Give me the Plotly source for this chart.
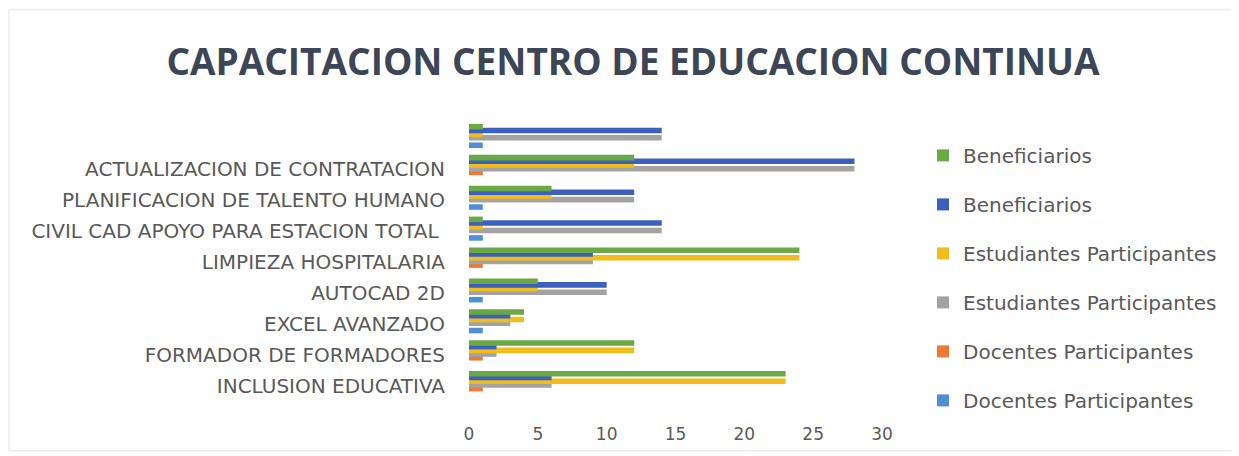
import plotly.graph_objects as go

categories = ["INCLUSION EDUCATIVA", "FORMADOR DE FORMADORES", "EXCEL AVANZADO",
              "AUTOCAD 2D", "LIMPIEZA HOSPITALARIA", "CIVIL CAD APOYO PARA ESTACION TOTAL ",
              "PLANIFICACION DE TALENTO HUMANO", "ACTUALIZACION DE CONTRATACION", " "]

docentes_a = [0, 0, 1, 1, 0, 1, 1, 0, 1]        # light blue
docentes_b = [1, 1, 0, 0, 1, 0, 0, 1, 0]        # orange
estudiantes_a = [6, 2, 3, 10, 9, 14, 12, 28, 14]  # gray
estudiantes_b = [23, 12, 4, 5, 24, 1, 6, 12, 1]   # yellow
beneficiarios_a = [6, 2, 3, 10, 9, 14, 12, 28, 14]  # dark blue
beneficiarios_b = [23, 12, 4, 5, 24, 1, 6, 12, 1]   # green

series = [
    ("Docentes Participantes", docentes_a, "#4f8fd8"),
    ("Docentes Participantes", docentes_b, "#ec7a35"),
    ("Estudiantes Participantes", estudiantes_a, "#a3a3a3"),
    ("Estudiantes Participantes", estudiantes_b, "#f2bd1a"),
    ("Beneficiarios", beneficiarios_a, "#3b60c0"),
    ("Beneficiarios", beneficiarios_b, "#6aaa45"),
]

# page has an 8px body margin; all figure pixel coordinates = page - 8
OFF = 8
W = 1239 - OFF
H = 456 - OFF
ML = 469 - OFF
PR = 882 - OFF
MT = 123 - OFF
PB = 420 - OFF
MR = W - PR
MB = H - PB

bar_w = 0.18
step = 0.12
start = -0.5 * (5 * step + bar_w) + 0.08

fig = go.Figure()
for i, (name, vals, col) in enumerate(series):
    fig.add_trace(go.Bar(
        y=categories, x=vals, orientation="h", name=name,
        marker=dict(color=col, line=dict(width=0)),
        width=bar_w, offset=start + i * step,
        legendgroup=f"g{i}", legendrank=100 - i,
    ))

pw = W - ML - MR
ph = H - MT - MB

def px_x(p):
    return (p - OFF - ML) / pw

def px_y(p):
    return 1 - (p - OFF - MT) / ph

fig.update_layout(
    width=W, height=H,
    margin=dict(l=ML, r=MR, t=MT, b=MB),
    paper_bgcolor="white", plot_bgcolor="white",
    barmode="overlay",
    title=dict(text="<b>CAPACITACION CENTRO DE EDUCACION CONTINUA</b>",
               x=(633 - OFF) / W, xref="container", xanchor="center",
               y=1 - (62 - OFF) / H, yanchor="middle",
               font=dict(family="Open Sans", size=37, color="#3d4656")),
    font=dict(family="DejaVu Sans", size=18, color="#595959"),
    xaxis=dict(range=[0, 30], dtick=5, showgrid=False, zeroline=False,
               showline=False, ticklabelstandoff=4,
               tickfont=dict(family="DejaVu Sans", size=17, color="#595959")),
    yaxis=dict(range=[-1.05, 8.5], showgrid=False, zeroline=False, showline=False,
               ticks="outside", ticklen=19, tickcolor="rgba(0,0,0,0)",
               tickfont=dict(family="DejaVu Sans", size=20, color="#595959")),
    legend=dict(x=px_x(923), xanchor="left", y=px_y(136), yanchor="top",
                traceorder="grouped", tracegroupgap=20,
                font=dict(family="DejaVu Sans", size=20, color="#595959"),
                bgcolor="rgba(0,0,0,0)"),
    shapes=[dict(type="rect", xref="paper", yref="paper",
                 x0=px_x(9), x1=px_x(1236), y0=px_y(453), y1=px_y(9),
                 line=dict(color="#e6e6e6", width=1), fillcolor="rgba(0,0,0,0)", layer="below")],
)

fig.write_html("out.html")
